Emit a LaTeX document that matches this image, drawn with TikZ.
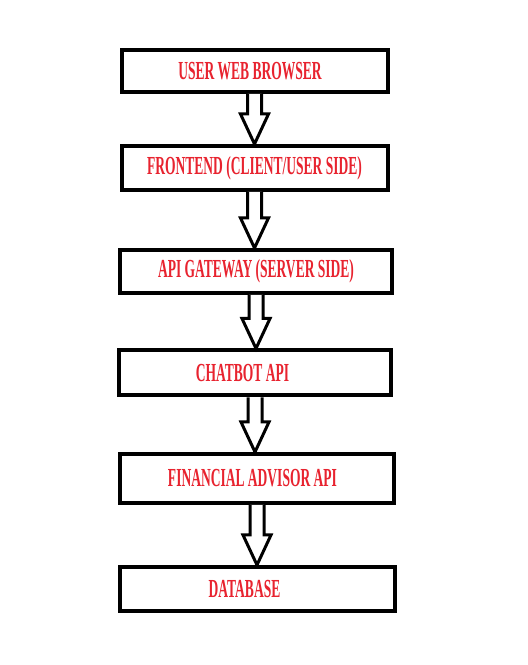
\documentclass[tikz,border=0pt]{standalone}
\usepackage{fontspec}
\usepackage{tikz}
\usetikzlibrary{calc}
\newfontfamily\boxfont[FakeStretch=0.52]{Liberation Serif}
\definecolor{boxred}{HTML}{E8232F}

\begin{document}
\begin{tikzpicture}[
  x=1pt, y=1pt,
  layer/.style={draw, line width=4pt, fill=white, inner sep=0pt,
                minimum height=44pt, align=center,
                font=\boxfont\bfseries\fontsize{26}{28}\selectfont, text=boxred},
  blockarr/.style={draw, line width=3pt, fill=white, line join=miter}
]
  \useasboundingbox (0,0) rectangle (528,665);

  % stack of layers, top to bottom
  \node[layer, minimum width=266pt, minimum height=42pt] (browser)  at (254.5,594)   {\kern-9pt USER WEB BROWSER};
  \node[layer, minimum width=266pt] (frontend) at (254.5,497)   {FRONTEND (CLIENT/USER SIDE)};
  \node[layer, minimum width=272pt, minimum height=43pt] (gateway)  at (256,393.5)   {API GATEWAY (SERVER SIDE)};
  \node[layer, minimum width=272pt, minimum height=45pt] (chatbot)  at (255,292)     {\kern-25pt CHATBOT API};
  \node[layer, minimum width=274pt, minimum height=49pt] (advisor)  at (257,186.5)   {\kern-9pt FINANCIAL ADVISOR API};
  \node[layer, minimum width=275pt] (database) at (257.5,76)    {\kern-26pt DATABASE};

  % hollow block arrows between layers
  \foreach \a/\b in {browser/frontend, frontend/gateway, gateway/chatbot,
                     chatbot/advisor, advisor/database}
    \draw[blockarr] ($(\a.south)+(-7,0)$) -- ($(\a.south |- \b.north)+(-7,30)$)
      -- ($(\a.south |- \b.north)+(-14,30)$) -- (\a.south |- \b.north)
      -- ($(\a.south |- \b.north)+(14,30)$) -- ($(\a.south |- \b.north)+(7,30)$)
      -- ($(\a.south)+(7,0)$);
\end{tikzpicture}
\end{document}
